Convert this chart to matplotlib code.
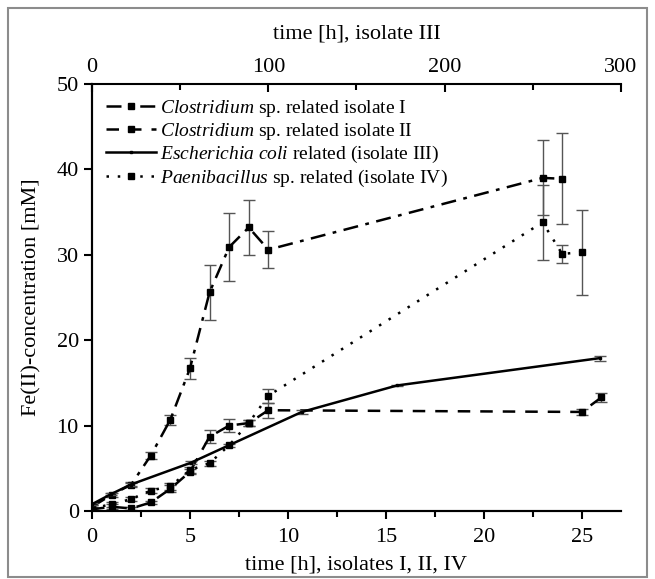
import numpy as np
import matplotlib
matplotlib.use('Agg')
from matplotlib import pyplot as plt
from matplotlib.ticker import MultipleLocator
from matplotlib.patches import Rectangle

# data (time in h, Fe(II) in mM)
t1 = [0, 1, 2, 3, 4, 5, 6, 7, 8, 9, 23, 24]
c1 = [0.5, 1.9, 3.1, 6.5, 10.7, 16.7, 25.6, 30.9, 33.2, 30.6, 39.0, 38.9]
e1 = [0.2, 0.2, 0.3, 0.4, 0.6, 1.2, 3.2, 4.0, 3.2, 2.2, 4.4, 5.3]

t2 = [0, 1, 2, 3, 4, 5, 6, 7, 8, 9, 25, 26]
c2 = [0.2, 0.5, 0.3, 1.0, 2.6, 4.6, 8.7, 10.0, 10.3, 11.8, 11.6, 13.3]
e2 = [0.2, 0.3, 0.2, 0.2, 0.4, 0.3, 0.75, 0.75, 0.3, 0.9, 0.4, 0.5]

# isolate III on top axis
t3 = [0, 11, 22, 56, 119, 173, 288]
c3 = [0.8, 2.0, 3.1, 5.65, 11.6, 14.7, 17.9]
e3 = [0.1, 0.1, 0.2, 0.2, 0.2, 0.1, 0.3]

t4 = [0, 1, 2, 3, 4, 5, 6, 7, 8, 9, 23, 24, 25]
c4 = [0.3, 0.8, 1.4, 2.4, 2.9, 4.8, 5.6, 7.7, 10.3, 13.5, 33.8, 30.1, 30.3]
e4 = [0.2, 0.3, 0.2, 0.3, 0.4, 0.3, 0.3, 0.2, 0.3, 0.8, 4.4, 1.05, 5.0]

labels = [r'$\it{Clostridium}$ sp. related isolate I',
          r'$\it{Clostridium}$ sp. related isolate II',
          r'$\it{Escherichia\ coli}$ related (isolate III)',
          r'$\it{Paenibacillus}$ sp. related (isolate IV)']

plt.rcParams['font.family'] = 'Liberation Serif'
plt.rcParams['mathtext.fontset'] = 'custom'
plt.rcParams['mathtext.rm'] = 'Liberation Serif'
plt.rcParams['mathtext.it'] = 'Liberation Serif:italic'
plt.rcParams['font.size'] = 16

fig = plt.figure(figsize=(6.55, 5.79), dpi=100)
ax = fig.add_axes([0.1405, 0.1174, 0.8075, 0.7376])
ax2 = ax.twiny()

# frame around the figure
fig.patches.append(Rectangle((0.012, 0.004), 0.976, 0.982, transform=fig.transFigure,
                             fill=False, edgecolor='#8c8c8c', linewidth=1.5))

ecol = '#555555'
lw = 1.8
ls1 = (0, (6, 3, 1.5, 3))
ls2 = (0, (5, 4))
ls4 = (0, (1, 3.5))

ax.errorbar(t1, c1, yerr=e1, fmt='none', ecolor=ecol, elinewidth=1, capsize=4)
ax.errorbar(t2, c2, yerr=e2, fmt='none', ecolor=ecol, elinewidth=1, capsize=4)
ax.errorbar(t4, c4, yerr=e4, fmt='none', ecolor=ecol, elinewidth=1, capsize=4)
ax2.errorbar(t3, c3, yerr=e3, fmt='none', ecolor=ecol, elinewidth=1, capsize=4)

h1, = ax.plot(t1, c1, color='black', linestyle=ls1, lw=lw, marker='s', ms=4.5)
h2, = ax.plot(t2, c2, color='black', linestyle=ls2, lw=lw, marker='s', ms=4.5)
h4, = ax.plot(t4, c4, color='black', linestyle=ls4, lw=lw, marker='s', ms=4.5)
h3, = ax2.plot(t3, c3, color='black', linestyle='-', lw=lw, marker='s', ms=1.5)

ax.set_xlim(0, 27)
ax.set_ylim(0, 50)
ax2.set_xlim(0, 300)

ax.xaxis.set_major_locator(MultipleLocator(5))
ax.xaxis.set_minor_locator(MultipleLocator(2.5))
ax.yaxis.set_major_locator(MultipleLocator(10))
ax2.xaxis.set_major_locator(MultipleLocator(100))
ax2.xaxis.set_minor_locator(MultipleLocator(50))

for a in (ax, ax2):
    a.spines['right'].set_visible(False)
    for s in a.spines.values():
        s.set_linewidth(1.5)
ax.spines['top'].set_visible(False)

ax.tick_params(axis='both', which='major', direction='out', length=6, width=1.5, labelsize=16)
ax.tick_params(axis='x', which='major', pad=6)
ax.tick_params(axis='x', which='minor', direction='out', length=4, width=1.5)
ax2.tick_params(axis='x', which='major', direction='in', length=6, width=1.5, labelsize=16, pad=5)
ax2.tick_params(axis='x', which='minor', direction='in', length=4, width=1.5)

ax.set_xlabel('time [h], isolates I, II, IV', fontsize=16, labelpad=6)
ax.set_ylabel('Fe(II)-concentration [mM]', fontsize=16, labelpad=11)
ax2.set_xlabel('time [h], isolate III', fontsize=16, labelpad=14)

ax2.legend([h1, h2, h3, h4], labels, loc='upper left', frameon=False, fontsize=14,
           handlelength=2.6, handletextpad=0.2, labelspacing=0.12,
           borderaxespad=0.3, bbox_to_anchor=(0.0, 1.0))

fig.savefig('out.png', dpi=100)
